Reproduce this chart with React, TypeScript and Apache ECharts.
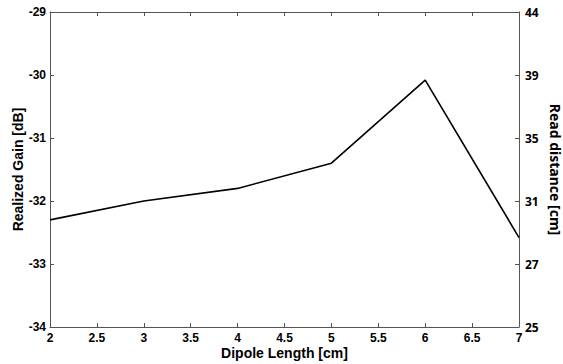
import React, { useEffect, useRef } from "react";
import * as echarts from "echarts";

const dipoleLength = [2, 3, 4, 5, 6, 7];
const realizedGain = [-32.3, -32.0, -31.8, -31.4, -30.08, -32.58];
const leftTicks = [-34, -33, -32, -31, -30, -29];
const rightTickLabels = ["25", "27", "31", "35", "39", "44"];

export default function App() {
  const ref = useRef<HTMLDivElement>(null);
  useEffect(() => {
    if (!ref.current) return;
    const chart = echarts.init(ref.current, null, { renderer: "svg" });
    const axisLine = { show: true, lineStyle: { color: "#555", width: 1 } };
    const leftFont = { fontFamily: "Liberation Sans", fontWeight: "bold" as const, fontSize: 12, color: "#000" };
    chart.setOption({
      animation: false,
      backgroundColor: "#fff",
      grid: { left: 50, right: 44, top: 12, bottom: 37, containLabel: false, outerBoundsMode: "none" },
      xAxis: [
        {
          type: "value",
          min: 2,
          max: 7,
          interval: 0.5,
          position: "bottom",
          axisLine,
          axisTick: { inside: true, length: 4, lineStyle: { color: "#555" } },
          splitLine: { show: false },
          axisLabel: { ...leftFont, margin: 5 },
          name: "Dipole Length [cm]",
          nameLocation: "middle",
          nameGap: 19,
          nameMoveOverlap: false,
          nameTextStyle: { fontFamily: "Liberation Sans", fontWeight: "bold", fontSize: 14, color: "#000" },
        },
        {
          type: "value",
          min: 2,
          max: 7,
          interval: 0.5,
          position: "top",
          axisLine,
          axisTick: { inside: true, length: 4, lineStyle: { color: "#555" } },
          splitLine: { show: false },
          axisLabel: { show: false },
        },
      ],
      yAxis: [
        {
          type: "value",
          min: leftTicks[0],
          max: leftTicks[leftTicks.length - 1],
          interval: 1,
          position: "left",
          axisLine,
          axisTick: { inside: true, length: 4, lineStyle: { color: "#555" } },
          splitLine: { show: false },
          axisLabel: { ...leftFont, margin: 4 },
          name: "Realized Gain [dB]",
          nameLocation: "middle",
          nameGap: 25,
          nameMoveOverlap: false,
          nameTextStyle: { fontFamily: "Liberation Sans", fontWeight: "bold", fontSize: 14, color: "#000" },
        },
        {
          type: "value",
          min: leftTicks[0],
          max: leftTicks[leftTicks.length - 1],
          interval: 1,
          position: "right",
          axisLine,
          axisTick: { inside: true, length: 4, lineStyle: { color: "#555" } },
          splitLine: { show: false },
          axisLabel: {
            fontFamily: "Noto Sans",
            fontWeight: "bold",
            fontSize: 12,
            color: "#000",
            margin: 6,
            formatter: (v: number) => {
              const i = leftTicks.indexOf(Math.round(v));
              return i >= 0 ? rightTickLabels[i] : "";
            },
          },
          name: "Read distance [cm]",
          nameLocation: "middle",
          nameGap: 29,
          nameMoveOverlap: false,
          nameRotate: -90,
          nameTextStyle: { fontFamily: "Noto Sans", fontWeight: "bold", fontSize: 14, color: "#000" },
        },
      ],
      series: [
        {
          type: "line",
          data: dipoleLength.map((x, i) => [x, realizedGain[i]]),
          showSymbol: false,
          lineStyle: { color: "#000", width: 1.6 },
        },
      ],
    });
    return () => chart.dispose();
  }, []);
  return <div ref={ref} style={{ width: 563, height: 364, position: "absolute", left: 0, top: 0 }} />;
}
